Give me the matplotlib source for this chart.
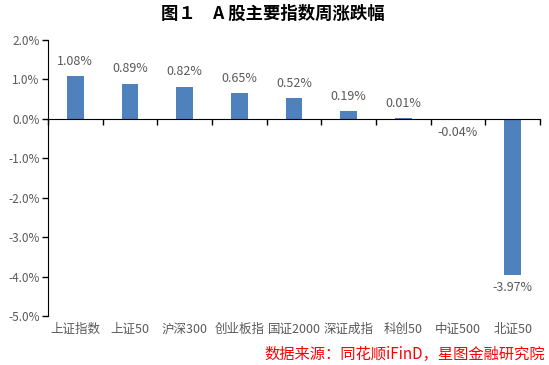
import numpy as np
import matplotlib
matplotlib.use("Agg")
from matplotlib import pyplot as plt
from matplotlib.ticker import FuncFormatter

plt.rcParams['font.family'] = ['Noto Sans CJK SC', 'DejaVu Sans']

categories = ['上证指数', '上证50', '沪深300', '创业板指', '国证2000', '深证成指', '科创50', '中证500', '北证50']
values = [1.08, 0.89, 0.82, 0.65, 0.52, 0.19, 0.01, -0.04, -3.97]
labels = ['1.08%', '0.89%', '0.82%', '0.65%', '0.52%', '0.19%', '0.01%', '-0.04%', '-3.97%']

bar_color = '#4F81BD'
text_color = '#595959'

fig = plt.figure(figsize=(5.49, 3.65), dpi=100)
ax = fig.add_axes([0.0874, 0.1342, 0.8962, 0.7562])

x = np.arange(len(categories))
ax.bar(x, values, width=0.31, color=bar_color, zorder=2)

ax.set_xlim(-0.5, len(categories) - 0.5)
ax.set_ylim(-5, 2)
ax.set_yticks(np.arange(-5, 2.1, 1))
ax.yaxis.set_major_formatter(FuncFormatter(lambda v, p: f'{v:.1f}%'))
ax.tick_params(axis='y', direction='out', length=4, width=1, colors='black',
               labelcolor=text_color, labelsize=8.5, pad=2)

# x axis on zero line, ticks at category boundaries
ax.spines['bottom'].set_position(('data', 0))
ax.spines['top'].set_visible(False)
ax.spines['right'].set_visible(False)
ax.spines['left'].set_color('black')
ax.spines['bottom'].set_color('black')
ax.set_xticks(np.arange(-0.5, len(categories), 1))
ax.set_xticklabels([])
ax.tick_params(axis='x', direction='out', length=4, width=1, colors='black')

# category labels below the plot
for xi, c in zip(x, categories):
    ax.annotate(c, (xi, 0), xycoords=ax.get_xaxis_transform(),
                xytext=(0, -5), textcoords='offset points',
                ha='center', va='top', fontsize=9, color=text_color)

# value labels
for xi, v, lab in zip(x, values, labels):
    if v >= 0:
        ax.annotate(lab, (xi, v), xytext=(0, 6), textcoords='offset points',
                    ha='center', va='bottom', fontsize=9, color=text_color)
    else:
        ax.annotate(lab, (xi, v), xytext=(0, -4), textcoords='offset points',
                    ha='center', va='top', fontsize=9, color=text_color)

fig.text(0.497, 0.962, '图１　A 股主要指数周涨跌幅', ha='center', va='center',
         fontsize=12.5, fontweight='bold', color='black')
fig.text(0.993, 0.028, '数据来源：同花顺iFinD，星图金融研究院', ha='right', va='center',
         fontsize=11, color='red', style='italic')

fig.savefig('out.png', dpi=100)
